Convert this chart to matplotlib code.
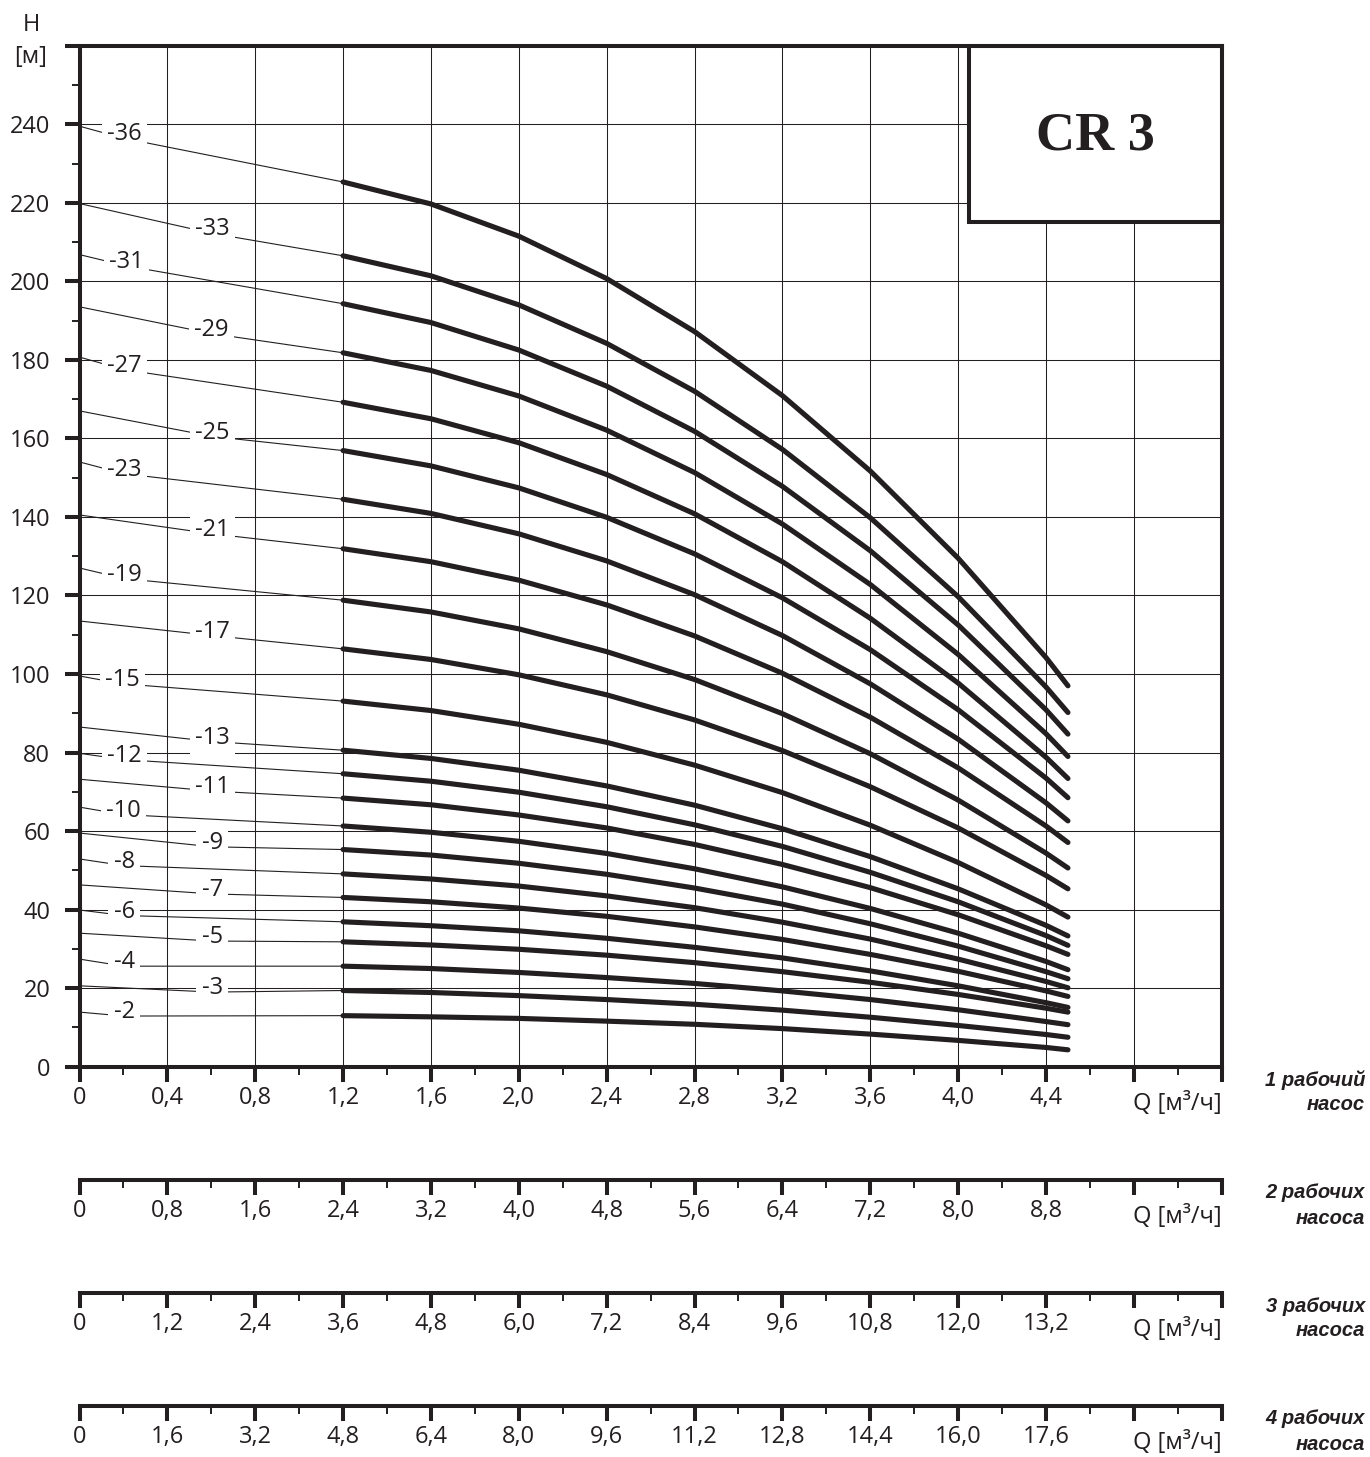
import numpy as np
import matplotlib
matplotlib.use("Agg")
import matplotlib.pyplot as plt
from matplotlib.patches import Rectangle

plt.rcParams['font.family'] = ['Open Sans', 'DejaVu Sans']
INK = '#231f20'

W, H = 1370, 1457

# ---------------- data ----------------
q_points = [1.2, 1.6, 2.0, 2.4, 2.8, 3.2, 3.6, 4.0, 4.4, 4.5]

h36 = [225.3, 219.7, 211.5, 200.7, 187.2, 170.9, 151.7, 129.5, 104.2, 97.0]
h33 = [206.5, 201.4, 194.0, 184.2, 172.0, 157.2, 139.8, 119.7, 96.7, 90.2]
h31 = [194.3, 189.5, 182.5, 173.3, 161.8, 147.8, 131.4, 112.5, 90.9, 84.7]
h29 = [181.8, 177.3, 170.8, 162.1, 151.3, 138.2, 122.8, 105.0, 84.8, 79.0]
h27 = [169.2, 165.0, 158.9, 150.8, 140.8, 128.6, 114.2, 97.7, 78.8, 73.4]
h25 = [156.9, 153.0, 147.4, 139.9, 130.6, 119.4, 106.2, 90.9, 73.5, 68.5]
h23 = [144.5, 140.9, 135.7, 128.8, 120.2, 109.8, 97.5, 83.4, 67.2, 62.6]
h21 = [131.9, 128.6, 123.9, 117.6, 109.7, 100.2, 89.0, 76.1, 61.3, 57.1]
h19 = [118.8, 115.8, 111.5, 105.7, 98.6, 89.9, 79.7, 67.9, 54.4, 50.6]
h17 = [106.4, 103.7, 99.8, 94.7, 88.3, 80.5, 71.3, 60.8, 48.7, 45.3]
h15 = [93.1, 90.7, 87.2, 82.6, 76.8, 69.8, 61.5, 52.0, 41.2, 38.1]
h13 = [80.6, 78.5, 75.5, 71.5, 66.6, 60.6, 53.5, 45.3, 36.0, 33.3]
h12 = [74.6, 72.7, 69.9, 66.2, 61.6, 56.1, 49.5, 42.0, 33.4, 30.9]
h11 = [68.4, 66.7, 64.1, 60.8, 56.6, 51.5, 45.6, 38.7, 30.8, 28.6]
h10 = [61.3, 59.7, 57.4, 54.3, 50.4, 45.8, 40.3, 34.0, 26.8, 24.7]
h9 = [55.3, 53.9, 51.8, 49.0, 45.5, 41.4, 36.4, 30.7, 24.2, 22.4]
h8 = [49.1, 47.8, 46.0, 43.5, 40.5, 36.8, 32.5, 27.4, 21.7, 20.1]
h7 = [43.1, 42.0, 40.4, 38.3, 35.6, 32.4, 28.6, 24.3, 19.3, 17.9]
h6 = [36.9, 35.9, 34.6, 32.7, 30.4, 27.7, 24.4, 20.6, 16.3, 15.1]
h5 = [31.8, 31.0, 29.9, 28.4, 26.5, 24.2, 21.5, 18.4, 14.9, 13.9]
h4 = [25.6, 25.0, 24.0, 22.7, 21.2, 19.3, 17.1, 14.5, 11.5, 10.7]
h3 = [19.4, 18.9, 18.1, 17.1, 15.9, 14.4, 12.6, 10.5, 8.2, 7.5]
h2 = [13.0, 12.7, 12.3, 11.6, 10.8, 9.7, 8.3, 6.7, 4.9, 4.3]

curve_names = ['-36', '-33', '-31', '-29', '-27', '-25', '-23', '-21', '-19', '-17',
               '-15', '-13', '-12', '-11', '-10', '-9', '-8', '-7', '-6', '-5',
               '-4', '-3', '-2']
curve_heads = [h36, h33, h31, h29, h27, h25, h23, h21, h19, h17,
               h15, h13, h12, h11, h10, h9, h8, h7, h6, h5, h4, h3, h2]

# where each label leader leaves the H axis (Q = 0)
leader_start_h = [239.5, 219.8, 206.8, 193.5, 180.7, 167.0, 154.0, 140.5, 127.0, 113.5,
                  99.5, 86.5, 79.8, 73.2, 66.1, 59.5, 52.9, 46.3, 39.9, 34.0,
                  27.4, 20.6, 13.9]
# label positions
label_q = [0.203, 0.604, 0.215, 0.600, 0.203, 0.604, 0.203, 0.604, 0.203, 0.604,
           0.195, 0.604, 0.203, 0.604, 0.200, 0.604, 0.203, 0.604, 0.203, 0.604,
           0.203, 0.604, 0.203]
label_h = [237.4, 213.2, 204.9, 187.7, 178.5, 161.5, 152.0, 136.7, 125.3, 110.8,
           98.5, 83.8, 79.2, 71.2, 65.2, 57.0, 52.2, 45.0, 39.5, 33.0,
           26.6, 20.0, 13.9]

# flow axes
q1_ticks = [0, 0.4, 0.8, 1.2, 1.6, 2.0, 2.4, 2.8, 3.2, 3.6, 4.0, 4.4, 4.8, 5.2]
q1_labels = ['0', '0,4', '0,8', '1,2', '1,6', '2,0', '2,4', '2,8', '3,2', '3,6', '4,0', '4,4', '', '']
q2_labels = ['0', '0,8', '1,6', '2,4', '3,2', '4,0', '4,8', '5,6', '6,4', '7,2', '8,0', '8,8', '', '']
q3_labels = ['0', '1,2', '2,4', '3,6', '4,8', '6,0', '7,2', '8,4', '9,6', '10,8', '12,0', '13,2', '', '']
q4_labels = ['0', '1,6', '3,2', '4,8', '6,4', '8,0', '9,6', '11,2', '12,8', '14,4', '16,0', '17,6', '', '']
pump_counts = [1, 2, 3, 4]
pump_texts = [('1 рабочий', 'насос'), ('2 рабочих', 'насоса'),
              ('3 рабочих', 'насоса'), ('4 рабочих', 'насоса')]
h_ticks = list(range(0, 261, 20))
h_labels = [str(v) for v in range(0, 241, 20)] + ['']

# ---------------- figure ----------------
fig = plt.figure(figsize=(W / 100, H / 100), dpi=100)

def fx(px):
    return px / W

def fy(py):
    return 1 - py / H

ax_left, ax_right = 79.5, 1221.7
ax_top, ax_bottom = 45.7, 1066.7
ax = fig.add_axes([fx(ax_left), fy(ax_bottom), fx(ax_right - ax_left), (ax_bottom - ax_top) / H])
ax.set_xlim(0, 5.2)
ax.set_ylim(0, 260)

for s in ax.spines.values():
    s.set_linewidth(2.9)
    s.set_color(INK)
    s.set_zorder(8)

ax.set_xticks(q1_ticks)
ax.set_xticklabels(q1_labels)
ax.set_xticks(np.arange(0.2, 5.2, 0.4), minor=True)
ax.set_yticks(h_ticks)
ax.set_yticklabels(h_labels)
ax.set_yticks(np.arange(10, 260, 20), minor=True)
ax.tick_params(which='major', length=11, width=2.9, color=INK, labelsize=17,
               labelcolor=INK, direction='out')
ax.tick_params(which='minor', length=5.5, width=1.4, color=INK, direction='out')
ax.tick_params(axis='x', which='major', pad=3)
ax.tick_params(axis='y', which='major', pad=10)
ax.grid(True, which='major', color=INK, lw=0.75, zorder=0)
ax.set_axisbelow(True)

# curves
for name, hv in zip(curve_names, curve_heads):
    ax.plot(q_points, hv, color=INK, lw=3.7, solid_capstyle='round',
            solid_joinstyle='round', zorder=4)

# leaders and labels
for name, hv, hs, lq, lh in zip(curve_names, curve_heads, leader_start_h, label_q, label_h):
    ax.plot([0, lq, q_points[0]], [hs, lh - 1.0, hv[0]], color=INK, lw=0.8, zorder=3)
    ax.text(lq, lh, name, ha='center', va='center', fontsize=17, color=INK, zorder=5,
            bbox=dict(boxstyle='square,pad=0.22', fc='white', ec='none'))

# CR 3 box
bx0 = (966.7 - ax_left) / 219.2
by0 = (ax_bottom - 222.3) / 3.925
ax.add_patch(Rectangle((bx0, by0), 5.2 - bx0, 260 - by0, fc='white', ec=INK, lw=2.9,
                       zorder=6, clip_on=False))
ax.text((bx0 + 5.2) / 2, 236.8, 'CR 3', ha='center', va='center', fontsize=39,
        family='Liberation Serif', weight='bold', color=INK, zorder=7)

# H label
fig.text(fx(31), fy(25), 'H', ha='center', va='center', fontsize=17, color=INK)
fig.text(fx(31), fy(57), '[м]', ha='center', va='center', fontsize=17, color=INK)

# extra flow axes
axis_lines = [1066.7, 1180, 1293, 1406]
all_labels = [q1_labels, q2_labels, q3_labels, q4_labels]
for i, (n, labs, ly) in enumerate(zip(pump_counts, all_labels, axis_lines)):
    if i > 0:
        a = fig.add_axes([fx(ax_left), fy(ly), fx(ax_right - ax_left), 0.0001])
        a.set_xlim(0, 5.2 * n)
        a.set_ylim(0, 1)
        for k in ['top', 'left', 'right']:
            a.spines[k].set_visible(False)
        a.spines['bottom'].set_linewidth(2.9)
        a.spines['bottom'].set_color(INK)
        a.set_yticks([])
        a.set_xticks([t * n for t in q1_ticks])
        a.set_xticklabels(labs)
        a.set_xticks([t * n for t in np.arange(0.2, 5.2, 0.4)], minor=True)
        a.tick_params(which='major', length=11, width=2.9, color=INK, labelsize=17,
                      labelcolor=INK, direction='out', pad=3)
        a.tick_params(which='minor', length=5.5, width=1.4, color=INK, direction='out')
        a.patch.set_visible(False)
    fig.text(fx(1222), fy(ly + 43), 'Q [м³/ч]', ha='right', va='baseline',
             fontsize=17, color=INK)
    t1, t2 = pump_texts[i]
    fig.text(fx(1365), fy(ly + 13), t1, ha='right', va='center', fontsize=14.5,
             family='Liberation Sans', style='italic', weight='bold', color=INK)
    fig.text(fx(1365), fy(ly + 38), t2, ha='right', va='center', fontsize=14.5,
             family='Liberation Sans', style='italic', weight='bold', color=INK)

fig.savefig('out.png', dpi=100)
